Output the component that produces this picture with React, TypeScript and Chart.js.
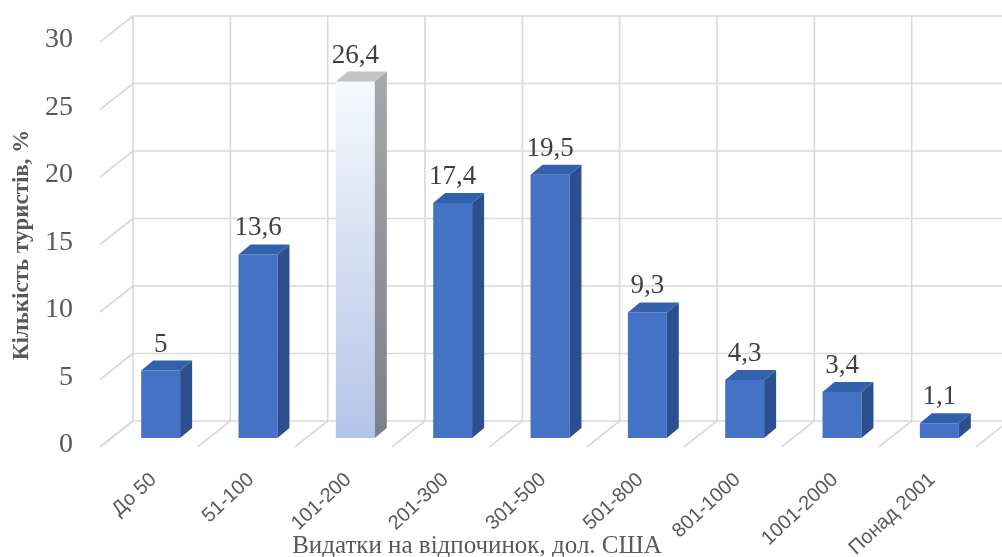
import React, { useEffect, useRef } from "react";
import { Chart, registerables } from "chart.js";

Chart.register(...registerables);

const categories = ["До 50", "51-100", "101-200", "201-300", "301-500", "501-800", "801-1000", "1001-2000", "Понад 2001"];
const values = [5, 13.6, 26.4, 17.4, 19.5, 9.3, 4.3, 3.4, 1.1];
const yTickValues = [0, 5, 10, 15, 20, 25, 30];
const highlightIndex = 2;
const yTitle = "Кількість туристів, %";
const xTitle = "Видатки на відпочинок, дол. США";

const W = 1002;
const H = 557;
const DX = 12;
const DY = 10;
const FRONT = { dx: -12, dy: 9 };
const BACK = { dx: 21, dy: -17 };
const GRID = "#d9d9d9";
const SERIF = "'Liberation Serif', 'Times New Roman', serif";
const SANS = "'Liberation Sans', Arial, sans-serif";

function fmt(v: number) {
  return String(v).replace(".", ",");
}

const wallPlugin = {
  id: "wall3d",
  beforeDatasetsDraw(chart: any) {
    const { ctx, scales } = chart;
    const y = scales.y;
    const n = categories.length;
    const left = chart.chartArea.left;
    const right = chart.chartArea.right;
    const catW = (right - left) / n;
    ctx.save();
    ctx.strokeStyle = GRID;
    ctx.lineWidth = 1.6;
    const yTop = y.getPixelForValue(yTickValues[yTickValues.length - 1]);
    const yBase = y.getPixelForValue(0);
    yTickValues.forEach((v) => {
      const py = y.getPixelForValue(v);
      ctx.beginPath();
      ctx.moveTo(left + BACK.dx, py + BACK.dy);
      ctx.lineTo(W, py + BACK.dy);
      ctx.stroke();
      ctx.beginPath();
      ctx.moveTo(left + FRONT.dx, py + FRONT.dy);
      ctx.lineTo(left + BACK.dx, py + BACK.dy);
      ctx.stroke();
    });
    for (let k = 0; k <= n; k++) {
      const bx = left + k * catW;
      ctx.beginPath();
      ctx.moveTo(bx + BACK.dx, yTop + BACK.dy);
      ctx.lineTo(bx + BACK.dx, yBase + BACK.dy);
      ctx.stroke();
      ctx.beginPath();
      ctx.moveTo(bx + FRONT.dx, yBase + FRONT.dy);
      ctx.lineTo(bx + BACK.dx, yBase + BACK.dy);
      ctx.stroke();
    }
    ctx.restore();
  },
  afterDatasetsDraw(chart: any) {
    const { ctx } = chart;
    const meta = chart.getDatasetMeta(0);
    ctx.save();
    meta.data.forEach((bar: any, i: number) => {
      const { x, y, base, width } = bar.getProps(["x", "y", "base", "width"], true);
      const l = x - width / 2;
      const r = x + width / 2;
      const hl = i === highlightIndex;
      let side: any = "#2c4f8f";
      if (hl) {
        const g = ctx.createLinearGradient(0, y, 0, base);
        g.addColorStop(0, "#a3a6ab");
        g.addColorStop(1, "#7c8087");
        side = g;
      }
      ctx.fillStyle = side;
      ctx.beginPath();
      ctx.moveTo(r, y);
      ctx.lineTo(r + DX, y - DY);
      ctx.lineTo(r + DX, base - DY);
      ctx.lineTo(r, base);
      ctx.closePath();
      ctx.fill();
      ctx.fillStyle = hl ? "#c3c4c6" : "#3461ac";
      ctx.beginPath();
      ctx.moveTo(l, y);
      ctx.lineTo(l + DX, y - DY);
      ctx.lineTo(r + DX, y - DY);
      ctx.lineTo(r, y);
      ctx.closePath();
      ctx.fill();
      ctx.fillStyle = "#404040";
      ctx.font = `27px ${SERIF}`;
      ctx.textAlign = "center";
      ctx.textBaseline = "alphabetic";
      ctx.fillText(fmt(values[i]), x, y - 19);
    });
    ctx.restore();
  },
  afterDraw(chart: any) {
    const { ctx } = chart;
    ctx.save();
    ctx.fillStyle = "#595959";
    ctx.textAlign = "center";
    ctx.textBaseline = "middle";
    ctx.font = `25px ${SERIF}`;
    ctx.fillText(xTitle, 477, 546);
    ctx.translate(22, 245);
    ctx.rotate(-Math.PI / 2);
    ctx.font = `bold 23px ${SERIF}`;
    ctx.fillText(yTitle, 0, 0);
    ctx.restore();
  },
};

export default function App() {
  const ref = useRef<HTMLCanvasElement | null>(null);
  useEffect(() => {
    const canvas = ref.current;
    if (!canvas) return;
    const chart = new Chart(canvas, {
      type: "bar",
      data: {
        labels: categories,
        datasets: [
          {
            data: values,
            categoryPercentage: 1,
            barPercentage: 0.4,
            borderWidth: 0,
            backgroundColor: (c: any) => {
              if (c.dataIndex !== highlightIndex) return "#4472c4";
              const ch = c.chart;
              const ys = ch.scales && ch.scales.y;
              if (!ys || !ch.chartArea) return "#dbe4f4";
              const g = ch.ctx.createLinearGradient(0, ys.getPixelForValue(values[highlightIndex]), 0, ys.getPixelForValue(0));
              g.addColorStop(0, "#f6f8fd");
              g.addColorStop(1, "#b2c5e8");
              return g;
            },
          },
        ],
      },
      options: {
        responsive: false,
        animation: false,
        layout: { padding: { left: 0, top: 33, right: 14, bottom: 0 } },
        plugins: { legend: { display: false }, tooltip: { enabled: false } },
        scales: {
          x: {
            grid: { display: false, drawTicks: false },
            border: { display: false },
            ticks: {
              autoSkip: false,
              minRotation: 43,
              maxRotation: 43,
              padding: 30,
              labelOffset: -7,
              color: "#595959",
              font: { family: SANS, size: 20 },
            },
            afterFit: (s: any) => {
              s.height = H - 438;
              s.paddingLeft = 0;
              s.paddingRight = 0;
            },
          },
          y: {
            min: 0,
            max: 30,
            grid: { display: false, drawTicks: false },
            border: { display: false },
            ticks: {
              stepSize: 5,
              padding: 39,
              labelOffset: 7,
              color: "#595959",
              font: { family: SERIF, size: 28 },
            },
            afterFit: (s: any) => {
              s.width = 112;
              s.paddingTop = 0;
              s.paddingBottom = 0;
            },
          },
        },
      },
      plugins: [wallPlugin],
    });
    return () => chart.destroy();
  }, []);
  return (
    <div style={{ position: "absolute", left: 0, top: 0, width: W, height: H, background: "#fff" }}>
      <canvas ref={ref} width={W} height={H} style={{ display: "block" }} />
    </div>
  );
}
